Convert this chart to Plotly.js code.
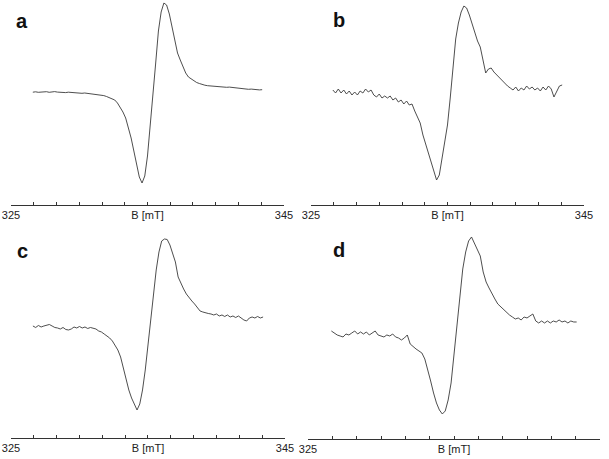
<!DOCTYPE html>
<html>
<head>
<meta charset="utf-8">
<script src="https://cdn.plot.ly/plotly-3.0.1.min.js"></script>
<style>html,body{margin:0;padding:0;background:#fff;}#chart{width:609px;height:459px;}</style>
</head>
<body>
<div id="chart"></div>
<script>
// Magnetic field (mT)
const bField = [
326.6,326.8,327.0,327.2,327.4,327.6,327.8,328.0,328.2,328.4,
328.6,328.8,329.0,329.2,329.4,329.6,329.8,330.0,330.2,330.4,
330.6,330.8,331.0,331.2,331.4,331.6,331.8,332.0,332.2,332.4,
332.6,332.8,333.0,333.2,333.4,333.6,333.8,334.0,334.2,334.4,
334.6,334.8,335.0,335.2,335.4,335.6,335.8,336.0,336.2,336.4,
336.6,336.8,337.0,337.2,337.4,337.6,337.8,338.0,338.2,338.4,
338.6,338.8,339.0,339.2,339.4,339.6,339.8,340.0,340.2,340.4,
340.6,340.8,341.0,341.2,341.4,341.6,341.8,342.0,342.2,342.4,
342.6,342.8,343.0,343.2,343.4];

// EPR signal (a.u.) for spectra a-d
const sigA = [
-0.2,0.2,-0.3,0.1,-0.1,0.3,-0.3,0,0.4,-0.1,
-0.4,0,-0.6,-0.2,-0.5,-0.9,-0.6,-1.0,-1.3,-1.0,
-1.4,-1.8,-1.6,-2.2,-2.6,-3.0,-3.6,-4.5,-5.8,-6.8,
-8,-11,-15,-20,-26,-35,-46,-59,-72,-85,
-91,-84,-64,-30,-5,29,61,80,89,87,
78,65,51,39,32,25,19,15,13,11,
9.5,8.5,7.5,6.8,6.3,6.0,5.6,5.4,5.5,5.0,
5.1,4.7,4.9,4.5,4.2,4.0,3.6,3.2,3.0,2.7,
2.9,2.4,2.6,2.1,2.3];

const sigB = [
2,-1,3,-1,2,-2,1,-3,0,-3,
1,-1,3,0,2,-3,-5,-2,-6,-4,
-6,-4,-8,-6,-10,-8,-12,-9,-13,-12,
-19,-25,-31,-43,-52,-60,-69,-78,-88,-83,
-66,-48,-33,-6,23,53,69,80,86,84,
77,68,59,51,45,32,19,23,24,20,
17,14,11,8,6,4,2,5,1,4,
2,6,3,5,2,4,1,5,2,6,
3,-5,0,6,7];

const sigC = [
1,-0.5,1.5,0,1,2,2.5,1,-0.5,-1,
-2,-0.5,-2.5,-3,-2,0,-1,0.5,-1,0,
-1.5,-0.5,-1,-2,-4,-5,-7,-9,-11,-14,
-19,-23,-30,-41,-53,-63,-71,-77,-83,-77,
-63,-43,-18,9,35,57,75,86,88,87.5,
82,73,65,50,43,38,33,29,26,23,
19,16,15,14,13.5,13,12,13,11,12,
10.5,12,10,11,9.5,11,9,7,6,9,
10,9,10.5,9,10];

const sigD = [
2,0,-2,-3,-4,-1,-2,0,2,-1,
1,-1,1,-2,0,2,-2,-3,-4,-2,
-3,-1,-4,-5,-7,-5,-2,-11,-14,-16,
-18,-20,-26,-36,-48,-60,-70,-77,-81,-78,
-67,-50,-21,8,37,64,81,92,96,90,
83,77,61,51,45,39,34,29,26,23,
20,18,16,14,15,13,16,15,17,19,
12,10,12,10,12,10,12,11,13,11,
12,10,12,11,11];

const tickVals = [325,326.667,328.333,330,331.667,333.333,335,336.667,338.333,340,341.667,343.333,345];
const tickLabels = ["325","","","","","","B [mT]","","","","","","345"];
const panelLabels = ["a","b","c","d"];

const signals = [sigA, sigB, sigC, sigD];
const xDomains = [[0.01806,0.46634],[0.51067,0.95895],[0.01806,0.46798],[0.50575,0.98522]];
const yDomains = [[0.55338,1],[0.55338,1],[0.04575,0.50327],[0.04357,0.50327]];
const yRanges = [[-113,92],[-113,92],[-111,99],[-106,105]];
const labelPos = [[22,21],[339,20],[22,251],[339,250]];

const FONT = "Liberation Sans, Arial, Helvetica, sans-serif";
const traces = [];
const layout = {
  width: 609, height: 459,
  margin: {l:0, r:0, t:0, b:0},
  paper_bgcolor: "#fff", plot_bgcolor: "#fff",
  showlegend: false,
  annotations: []
};
signals.forEach((s, k) => {
  const n = k + 1;
  const xa = n === 1 ? "x" : "x" + n;
  const ya = n === 1 ? "y" : "y" + n;
  traces.push({
    x: bField, y: s, type: "scatter", mode: "lines",
    xaxis: xa, yaxis: ya,
    line: {color: "#3a3a3a", width: 0.9},
    hoverinfo: "skip"
  });
  layout["xaxis" + (n === 1 ? "" : n)] = {
    domain: xDomains[k], anchor: ya, range: [325, 345],
    showline: true, linecolor: "#333", linewidth: 1,
    ticks: "inside", ticklen: 3, tickcolor: "#333", tickwidth: 1,
    tickmode: "array", tickvals: tickVals, ticktext: tickLabels,
    tickfont: {family: FONT, size: 11, color: "#222"},
    showgrid: false, zeroline: false, fixedrange: true
  };
  layout["yaxis" + (n === 1 ? "" : n)] = {
    domain: yDomains[k], anchor: xa, range: yRanges[k],
    visible: false, fixedrange: true
  };
  layout.annotations.push({
    text: "<b>" + panelLabels[k] + "</b>",
    xref: "paper", yref: "paper",
    x: labelPos[k][0] / 609, y: 1 - labelPos[k][1] / 459,
    xanchor: "center", yanchor: "middle", showarrow: false,
    font: {family: FONT, size: 20, color: "#111"}
  });
});

Plotly.newPlot("chart", traces, layout, {staticPlot: true, displayModeBar: false});
</script>
</body>
</html>
